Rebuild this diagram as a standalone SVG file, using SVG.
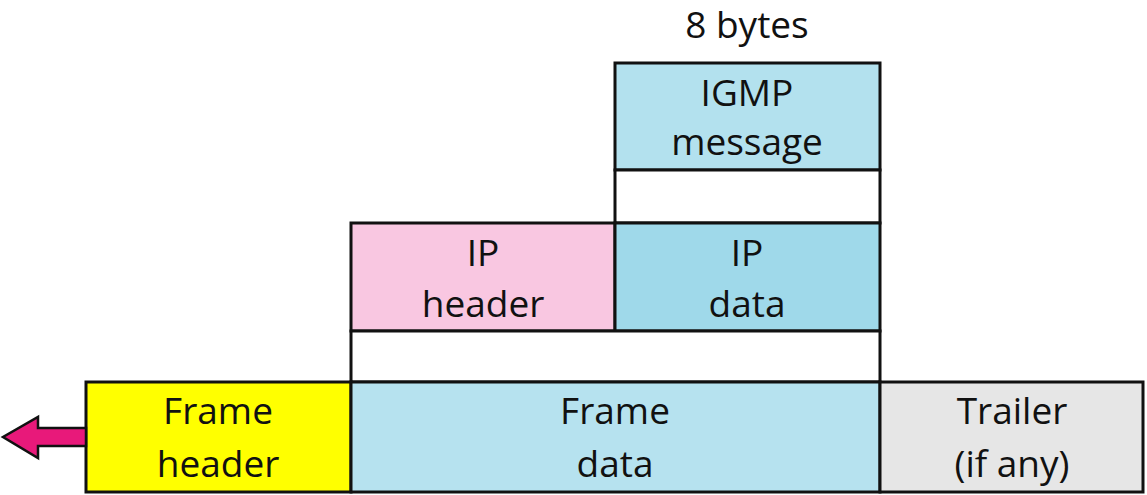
<svg xmlns="http://www.w3.org/2000/svg" width="1147" height="495" viewBox="0 0 1147 495">
<style>
rect{stroke:#111;stroke-width:3}
text{font-family:"Open Sans","Liberation Sans",sans-serif;font-size:37px;fill:#111;text-anchor:middle}
</style>
<rect x="0" y="0" width="1147" height="495" style="fill:#fff;stroke:none"/>
<text x="747" y="38">8 bytes</text>
<g id="igmp">
<rect x="615" y="63" width="265" height="107" fill="#b3e1ee"/>
<text x="747" y="106">IGMP</text>
<text x="747" y="155">message</text>
</g>
<g id="ip-pad"><rect x="615" y="170" width="265" height="53" fill="#fff"/></g>
<g id="ip-header">
<rect x="351" y="223" width="264" height="108" fill="#f9c7e1"/>
<text x="483" y="266">IP</text>
<text x="483" y="317">header</text>
</g>
<g id="ip-data">
<rect x="615" y="223" width="265" height="108" fill="#9fd9ea"/>
<text x="747" y="266">IP</text>
<text x="747" y="317">data</text>
</g>
<g id="frame-pad"><rect x="351" y="331" width="529" height="51" fill="#fff"/></g>
<g id="frame-header">
<rect x="86" y="382" width="265" height="110" fill="#ffff00"/>
<text x="218" y="424">Frame</text>
<text x="218" y="477">header</text>
</g>
<g id="frame-data">
<rect x="351" y="382" width="529" height="110" fill="#b6e2ef"/>
<text x="615" y="424">Frame</text>
<text x="615" y="477">data</text>
</g>
<g id="trailer">
<rect x="880" y="382" width="263" height="110" fill="#e6e6e6"/>
<text x="1012" y="424">Trailer</text>
<text x="1012" y="477">(if any)</text>
</g>
<g id="connectors">
<polygon points="86,428 38,428 38,417 3,437 38,458 38,446 86,446" fill="#e8197a" stroke="#111" stroke-width="2.5" stroke-linejoin="miter"/>
</g>
</svg>
